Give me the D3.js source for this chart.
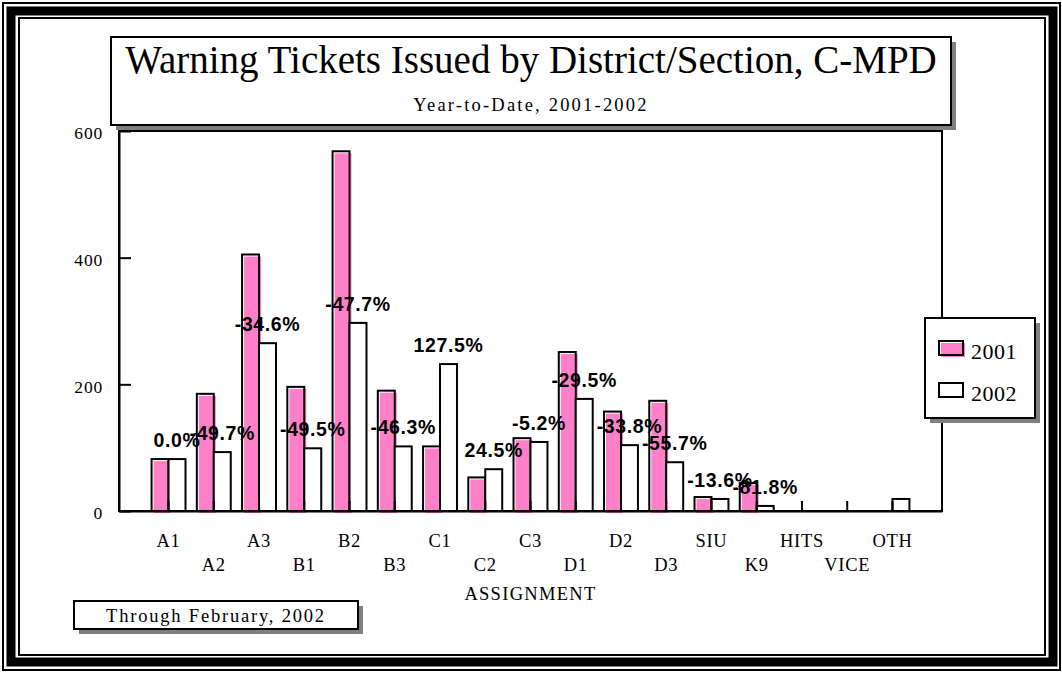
<!DOCTYPE html>
<html>
<head>
<meta charset="utf-8">
<script src="https://cdn.jsdelivr.net/npm/d3@7"></script>
<style>
  body { margin: 0; background: #fff; }
  svg { display: block; }
</style>
</head>
<body>
<svg id="chart"></svg>
<script>
// Chart data
const categories = ['A1', 'A2', 'A3', 'B1', 'B2', 'B3', 'C1', 'C2', 'C3', 'D1', 'D2', 'D3', 'SIU', 'K9', 'HITS', 'VICE', 'OTH'];
const values2001 = [82, 185, 405, 196, 568, 190, 102, 53, 115, 251, 157, 174, 22, 44, 0, 0, 0];
const values2002 = [82, 93, 265, 99, 297, 102, 232, 66, 109, 177, 104, 77, 19, 8, 0, 0, 19];
const changeLabels = ['0.0%', '-49.7%', '-34.6%', '-49.5%', '-47.7%', '-46.3%', '127.5%', '24.5%', '-5.2%', '-29.5%', '-33.8%', '-55.7%', '-13.6%', '-81.8%', '', '', ''];
const seriesNames = ['2001', '2002'];
const yTicks = [0, 200, 400, 600];

const width = 1062;
const height = 673;
const plot = { left: 119, right: 942, top: 131, bottom: 511 };
const pink = '#ff80c8';
const shadow = '#808080';
const serif = "'Liberation Serif', 'Times New Roman', serif";
const sans = "'Liberation Sans', Arial, sans-serif";

const svg = d3.select('#chart').attr('width', width).attr('height', height);

// rows for the grouped bars
const rows = categories.map((c, i) => ({
  cat: c,
  label: changeLabels[i],
  vals: [values2001[i], values2002[i]]
}));

let xScale, xSub, yScale;

const drawFrame = () => {
  svg.append('rect').attr('x', 3).attr('y', 3).attr('width', 1057).attr('height', 667)
    .attr('fill', 'none').attr('stroke', '#000').attr('stroke-width', 2);
  svg.append('rect').attr('x', 11).attr('y', 11).attr('width', 1042).attr('height', 651)
    .attr('fill', 'none').attr('stroke', '#000').attr('stroke-width', 9);
  svg.append('rect').attr('x', 19).attr('y', 18).attr('width', 1026).attr('height', 637)
    .attr('fill', 'none').attr('stroke', '#000').attr('stroke-width', 2);
};

const generateScales = () => {
  xScale = d3.scaleBand()
    .domain(categories)
    .range([plot.left, plot.right])
    .paddingInner(0.25)
    .paddingOuter(0.72);
  xSub = d3.scaleBand()
    .domain(seriesNames)
    .range([0, xScale.bandwidth()]);
  yScale = d3.scaleLinear()
    .domain([0, 600])
    .range([plot.bottom, plot.top]);
};

const drawPlotBox = () => {
  svg.append('rect')
    .attr('x', plot.left).attr('y', plot.top)
    .attr('width', plot.right - plot.left).attr('height', plot.bottom - plot.top)
    .attr('fill', '#fff').attr('stroke', '#000').attr('stroke-width', 2);
};

const drawBars = () => {
  const groups = svg.append('g').selectAll('g')
    .data(rows)
    .enter()
    .append('g')
    .attr('transform', (d) => 'translate(' + xScale(d.cat) + ',0)');

  const bars = groups.selectAll('g')
    .data((d) => d.vals.map((v, k) => ({ key: seriesNames[k], v: v })).filter((b) => b.v > 0))
    .enter()
    .append('g');

  // pink fill sits a little off the outline, like the original print
  bars.filter((b) => b.key === '2001')
    .append('rect')
    .attr('x', (b) => xSub(b.key) + 2)
    .attr('y', (b) => yScale(b.v) + 2)
    .attr('width', xSub.bandwidth())
    .attr('height', (b) => plot.bottom - yScale(b.v))
    .attr('fill', pink);

  bars.append('rect')
    .attr('x', (b) => xSub(b.key))
    .attr('y', (b) => yScale(b.v))
    .attr('width', xSub.bandwidth())
    .attr('height', (b) => plot.bottom - yScale(b.v))
    .attr('fill', (b) => (b.key === '2001' ? 'none' : '#fff'))
    .attr('stroke', '#000')
    .attr('stroke-width', 2);
};

const generateAxis = () => {
  const yAxis = d3.axisLeft(yScale).tickValues(yTicks).tickSizeInner(-12).tickSizeOuter(0).tickPadding(16);
  const gy = svg.append('g').attr('transform', 'translate(' + plot.left + ',0)').call(yAxis);
  gy.select('.domain').attr('stroke-width', 2);
  gy.selectAll('line').attr('stroke-width', 2);
  gy.selectAll('text')
    .attr('dy', '0.45em')
    .style('font-family', serif).style('font-size', '17.5px')
    .style('letter-spacing', '0.8px').attr('fill', '#000');

  const xAxis = d3.axisBottom(xScale).tickSizeInner(-10).tickSizeOuter(0);
  const gx = svg.append('g').attr('transform', 'translate(0,' + plot.bottom + ')').call(xAxis);
  gx.select('.domain').attr('stroke-width', 2);
  gx.selectAll('line').attr('stroke-width', 2);
  gx.selectAll('text')
    .attr('dy', 0)
    .attr('y', (d, i) => (i % 2 === 0 ? 36 : 60))
    .style('font-family', serif).style('font-size', '18.5px')
    .style('letter-spacing', '0.7px').attr('fill', '#000');

  svg.append('text')
    .attr('x', (plot.left + plot.right) / 2)
    .attr('y', 600)
    .attr('text-anchor', 'middle')
    .style('font-family', serif).style('font-size', '18.5px').style('letter-spacing', '1.3px')
    .text('ASSIGNMENT');
};

const drawChangeLabels = () => {
  svg.append('g').selectAll('text')
    .data(rows.filter((d) => d.label !== ''))
    .enter()
    .append('text')
    .attr('x', (d) => xScale(d.cat) + xSub('2002') + xSub.bandwidth() / 2)
    .attr('y', (d) => yScale(d.vals[1]) - 12)
    .attr('text-anchor', 'middle')
    .style('font-family', sans).style('font-weight', 'bold')
    .style('font-size', '19.5px').style('letter-spacing', '0.6px')
    .text((d) => d.label);
};

// box with a grey drop shadow
const shadowBox = (x, y, w, h) => {
  svg.append('rect').attr('x', x + 5).attr('y', y + 5).attr('width', w).attr('height', h).attr('fill', shadow);
  svg.append('rect').attr('x', x).attr('y', y).attr('width', w).attr('height', h)
    .attr('fill', '#fff').attr('stroke', '#000').attr('stroke-width', 2);
};

const infoText = () => {
  shadowBox(111, 37, 840, 88);
  svg.append('text')
    .attr('x', 531).attr('y', 73)
    .attr('text-anchor', 'middle')
    .style('font-family', serif).style('font-size', '39px')
    .text('Warning Tickets Issued by District/Section, C-MPD');
  svg.append('text')
    .attr('x', 531).attr('y', 111)
    .attr('text-anchor', 'middle')
    .style('font-family', serif).style('font-size', '18.5px').style('letter-spacing', '2.2px')
    .text('Year-to-Date, 2001-2002');

  shadowBox(74, 601, 284, 28);
  svg.append('text')
    .attr('x', 216).attr('y', 622)
    .attr('text-anchor', 'middle')
    .style('font-family', serif).style('font-size', '18.5px').style('letter-spacing', '1.8px')
    .text('Through February, 2002');
};

const drawLegend = () => {
  shadowBox(925, 318, 110, 100);
  const items = svg.append('g').selectAll('g')
    .data(seriesNames)
    .enter()
    .append('g')
    .attr('transform', (d, i) => 'translate(939,' + (341 + i * 42) + ')');
  items.filter((d) => d === '2001')
    .append('rect').attr('x', 2).attr('y', 2).attr('width', 24).attr('height', 14).attr('fill', pink);
  items.append('rect')
    .attr('width', 24).attr('height', 14)
    .attr('fill', (d) => (d === '2001' ? 'none' : '#fff'))
    .attr('stroke', '#000').attr('stroke-width', 2);
  items.append('text')
    .attr('x', 32).attr('y', 18)
    .style('font-family', serif).style('font-size', '22px').style('letter-spacing', '0.5px')
    .text((d) => d);
};

drawFrame();
generateScales();
drawPlotBox();
drawBars();
generateAxis();
drawChangeLabels();
infoText();
drawLegend();
</script>
</body>
</html>
